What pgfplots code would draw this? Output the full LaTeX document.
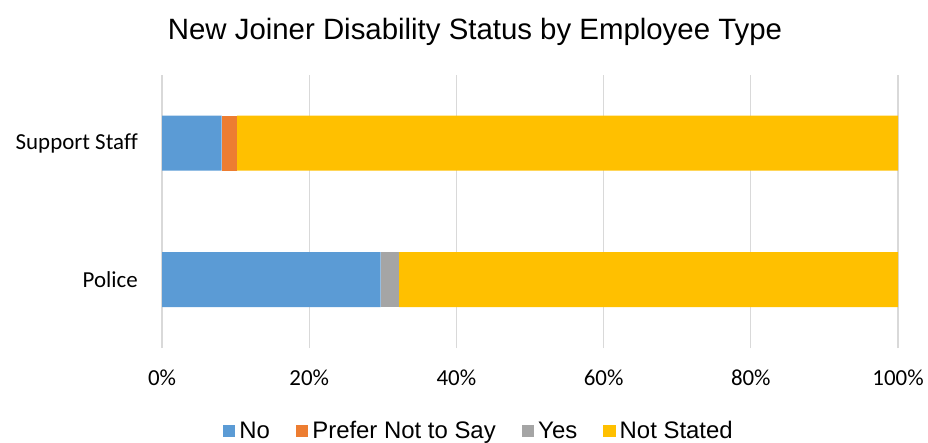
\documentclass[border=0pt]{standalone}
\usepackage{fontspec}
\setmainfont{Liberation Sans}
\newfontfamily\calibri[Ligatures=NoCommon]{Carlito}
\usepackage{pgfplots}
\pgfplotsset{compat=1.18}
\definecolor{cNo}{HTML}{5B9BD5}
\definecolor{cPref}{HTML}{ED7D31}
\definecolor{cYes}{HTML}{A5A5A5}
\definecolor{cNS}{HTML}{FFC000}
\definecolor{cGrid}{HTML}{D9D9D9}
\pgfplotsset{sqleg/.style={legend image code/.code={\fill[##1] (0bp,-6.2bp) rectangle (12.5bp,6.2bp);}}}
\begin{document}
\begin{tikzpicture}
\path[use as bounding box] (0,0) rectangle (928bp,443bp);
\node[anchor=base, inner sep=0pt, font=\fontsize{29.5}{34}\selectfont] at (475bp,403.5bp) {New Joiner Disability Status by Employee Type};
\begin{axis}[
  at={(162bp,95bp)}, anchor=south west,
  width=736bp, height=273bp, scale only axis,
  xbar stacked, bar width=55bp,
  xmin=0, xmax=100, ymin=-0.5, ymax=1.5,
  xtick={0,20,40,60,80,100},
  xticklabel={\pgfmathprintnumber{\tick}\%},
  ytick={0,1}, yticklabels={Police,Support Staff},
  xmajorgrids, grid style={draw=cGrid, line width=1.2bp},
  axis line style={draw=none},
  major tick length=0pt,
  tick label style={font=\calibri\fontsize{23}{27}\selectfont},
  /pgf/number format/assume math mode=true,
  xticklabel style={inner sep=0pt, yshift=-22bp},
  yticklabel style={inner sep=0pt, xshift=-24bp},
  legend columns=4,
  legend style={at={(0.429,-0.304)}, anchor=center, draw=none,
    font=\fontsize{24}{28}\selectfont,
    nodes={inner sep=0pt},
    /tikz/every odd column/.append style={column sep=4bp},
    /tikz/every even column/.append style={column sep=26bp}},
]
\addplot[fill=cNo, draw=none, sqleg] coordinates {(29.7,0) (8.1,1)};
\addlegendentry{No}
\addplot[fill=cPref, draw=none, sqleg] coordinates {(0,0) (2.1,1)};
\addlegendentry{Prefer Not to Say}
\addplot[fill=cYes, draw=none, sqleg] coordinates {(2.5,0) (0,1)};
\addlegendentry{Yes}
\addplot[fill=cNS, draw=none, sqleg] coordinates {(67.8,0) (89.8,1)};
\addlegendentry{Not Stated}
\end{axis}
\end{tikzpicture}
\end{document}
